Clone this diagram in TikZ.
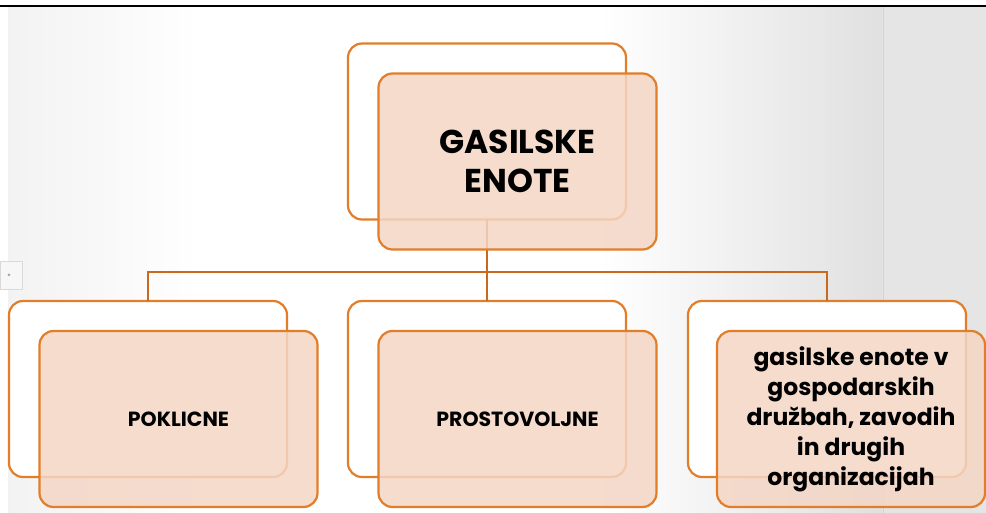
\documentclass[tikz,border=0pt]{standalone}
\usepackage{fontspec}
\setmainfont{Poppins}
\usetikzlibrary{positioning}

\definecolor{enoteorange}{RGB}{226,126,42}
\definecolor{enotefill}{RGB}{244,214,197}
\definecolor{linkbrown}{RGB}{200,105,30}

\begin{document}
\begin{tikzpicture}[x=1pt,y=-1pt,
    backbox/.style={draw=enoteorange, line width=2.2pt, rounded corners=14pt,
      fill=white, minimum width=278pt, minimum height=176pt, outer sep=0pt},
    frontbox/.style={draw=enoteorange, line width=2.2pt, rounded corners=14pt,
      fill=enotefill, fill opacity=0.85, text opacity=1, minimum width=278pt,
      minimum height=176pt, outer sep=0pt, align=center},
    link/.style={draw=linkbrown, line width=1.8pt}]
    \useasboundingbox (0,0) rectangle (986,513);

    % ozadje
    \fill[white] (0,0) rectangle (986,513);
    \shade[left color=gray!10, right color=white] (8,7) rectangle (200,513);
    \shade[left color=white, right color=gray!24] (600,7) rectangle (882,513);
    \fill[gray!20] (882,7) rectangle (986,513);
    \draw[gray!35, line width=1pt] (883,7) -- (883,513);
    \draw[black, line width=2pt] (0,6) -- (986,6);
    \node[draw=gray!30, fill=gray!6, minimum width=22pt, minimum height=28pt, outer sep=0pt] (tab) at (11,275) {};
    \fill[gray!70] (9,275) circle (1.5pt);

    % zadnji okvirji
    \node[backbox] (gback) at (487,131.5) {};
    \node[backbox] (pback) at (148,389) {};
    \node[backbox] (sback) at (487,389) {};
    \node[backbox] (dback) at (827,389) {};

    % povezave
    \draw[link] (gback.south) -- ++(0,52.5) coordinate (bus);
    \foreach \n in {pback,sback,dback} {
        \draw[link] (bus) -| (\n.north);
    }

    % sprednji okvirji
    \node[frontbox, font=\bfseries\fontsize{33}{39}\selectfont] (gfront) at (517.5,161.5) {GASILSKE\\ENOTE};
    \node[frontbox, font=\bfseries\fontsize{20.5}{24}\selectfont] (pfront) at (178.5,419) {POKLICNE};
    \node[frontbox, font=\bfseries\fontsize{20.5}{24}\selectfont] (sfront) at (517.5,419) {PROSTOVOLJNE};
    \node[frontbox, minimum width=268pt, font=\bfseries\fontsize{23.5}{30}\selectfont] (dfront) at (851,419)
        {gasilske enote v\\gospodarskih\\družbah, zavodih\\in drugih\\organizacijah};
\end{tikzpicture}
\end{document}
